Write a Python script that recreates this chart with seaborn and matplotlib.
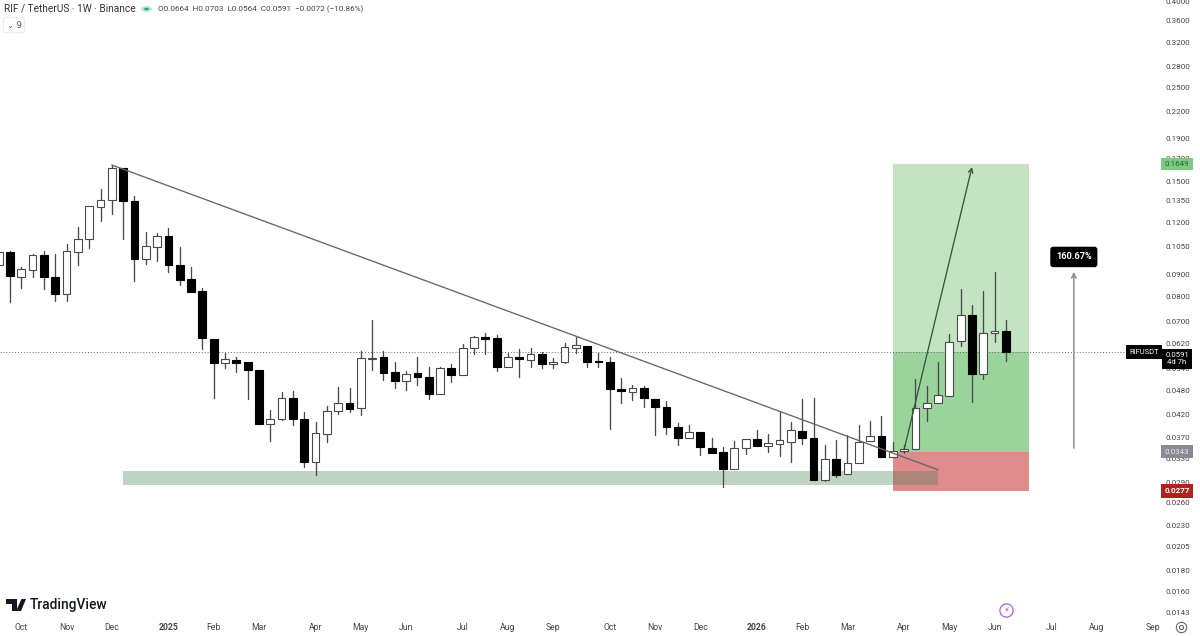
import pandas as pd
import numpy as np
import matplotlib
matplotlib.use('Agg')
import matplotlib.pyplot as plt
from matplotlib.patches import Circle, Polygon, Rectangle
import seaborn as sns

# weekly candles RIF/USDT
first_week = '2024-09-16'
open_ = [0.0950, 0.1022, 0.0892, 0.0925, 0.1002, 0.0892, 0.0812, 0.1022, 0.1095, 0.1304,
         0.1352, 0.1610, 0.1345, 0.0981, 0.1050, 0.1115, 0.0952, 0.0880, 0.0824, 0.0636,
         0.0558, 0.0567, 0.0559, 0.0536, 0.0400, 0.0410, 0.0459, 0.0411, 0.0325, 0.0379,
         0.0429, 0.0447, 0.0435, 0.0568, 0.0574, 0.0529, 0.0504, 0.0526, 0.0517, 0.0470,
         0.0542, 0.0522, 0.0603, 0.0641, 0.0638, 0.0546, 0.0574, 0.0567, 0.0585, 0.0553,
         0.0559, 0.0603, 0.0612, 0.0562, 0.0561, 0.0483, 0.0476, 0.0485, 0.0458, 0.0439,
         0.0393, 0.0370, 0.0383, 0.0351, 0.0342, 0.0313, 0.0351, 0.0368, 0.0355, 0.0357,
         0.0362, 0.0385, 0.0369, 0.0294, 0.0330, 0.0304, 0.0323, 0.0363, 0.0373, 0.0333,
         0.0345, 0.0348, 0.0435, 0.0447, 0.0465, 0.0627, 0.0724, 0.0524, 0.0657, 0.0664]
high = [0.1043, 0.1026, 0.0939, 0.1009, 0.1026, 0.1009, 0.1066, 0.1169, 0.1313, 0.1438,
        0.1640, 0.1615, 0.1387, 0.1140, 0.1132, 0.1163, 0.1048, 0.0941, 0.0837, 0.0636,
        0.0588, 0.0575, 0.0559, 0.0536, 0.0431, 0.0476, 0.0478, 0.0426, 0.0403, 0.0440,
        0.0488, 0.0487, 0.0593, 0.0703, 0.0596, 0.0561, 0.0534, 0.0574, 0.0546, 0.0546,
        0.0554, 0.0616, 0.0645, 0.0656, 0.0650, 0.0587, 0.0601, 0.0603, 0.0592, 0.0573,
        0.0622, 0.0643, 0.0612, 0.0589, 0.0574, 0.0512, 0.0494, 0.0491, 0.0458, 0.0453,
        0.0402, 0.0397, 0.0383, 0.0369, 0.0352, 0.0364, 0.0368, 0.0386, 0.0379, 0.0426,
        0.0403, 0.0458, 0.0459, 0.0356, 0.0365, 0.0375, 0.0397, 0.0406, 0.0416, 0.0361,
        0.0356, 0.0509, 0.0490, 0.0561, 0.0652, 0.0834, 0.0764, 0.0826, 0.0913, 0.0703]
low = [0.0925, 0.0777, 0.0838, 0.0890, 0.0834, 0.0781, 0.0781, 0.0950, 0.1043, 0.1207,
       0.1257, 0.1095, 0.0871, 0.0956, 0.0970, 0.0915, 0.0852, 0.0821, 0.0601, 0.0460,
       0.0541, 0.0530, 0.0457, 0.0399, 0.0364, 0.0408, 0.0398, 0.0315, 0.0303, 0.0361,
       0.0422, 0.0426, 0.0419, 0.0536, 0.0508, 0.0487, 0.0481, 0.0494, 0.0457, 0.0470,
       0.0502, 0.0522, 0.0584, 0.0585, 0.0532, 0.0546, 0.0517, 0.0544, 0.0543, 0.0543,
       0.0556, 0.0589, 0.0544, 0.0544, 0.0388, 0.0447, 0.0456, 0.0439, 0.0376, 0.0378,
       0.0356, 0.0370, 0.0337, 0.0340, 0.0283, 0.0313, 0.0339, 0.0355, 0.0343, 0.0336,
       0.0325, 0.0358, 0.0294, 0.0293, 0.0299, 0.0304, 0.0323, 0.0363, 0.0334, 0.0333,
       0.0341, 0.0348, 0.0406, 0.0447, 0.0465, 0.0612, 0.0451, 0.0509, 0.0626, 0.0564]
close = [0.1020, 0.0895, 0.0928, 0.1002, 0.0889, 0.0812, 0.1026, 0.1095, 0.1311, 0.1354,
         0.1610, 0.1345, 0.0982, 0.1056, 0.1115, 0.0949, 0.0876, 0.0821, 0.0637, 0.0558,
         0.0568, 0.0556, 0.0536, 0.0399, 0.0410, 0.0459, 0.0410, 0.0325, 0.0380, 0.0429,
         0.0448, 0.0433, 0.0571, 0.0573, 0.0527, 0.0505, 0.0524, 0.0517, 0.0471, 0.0543,
         0.0522, 0.0603, 0.0641, 0.0636, 0.0546, 0.0574, 0.0568, 0.0585, 0.0553, 0.0561,
         0.0607, 0.0613, 0.0561, 0.0560, 0.0483, 0.0477, 0.0486, 0.0459, 0.0438, 0.0393,
         0.0370, 0.0382, 0.0352, 0.0340, 0.0312, 0.0350, 0.0368, 0.0355, 0.0359, 0.0365,
         0.0386, 0.0369, 0.0294, 0.0330, 0.0303, 0.0322, 0.0362, 0.0373, 0.0334, 0.0345,
         0.0348, 0.0435, 0.0448, 0.0467, 0.0626, 0.0724, 0.0524, 0.0657, 0.0664, 0.0591]

y_ticks = [0.4000, 0.3600, 0.3200, 0.2800, 0.2500, 0.2200, 0.1900, 0.1700, 0.1500, 0.1350,
           0.1200, 0.1050, 0.0900, 0.0800, 0.0700, 0.0620, 0.0540, 0.0480, 0.0420, 0.0370,
           0.0330, 0.0290, 0.0260, 0.0230, 0.0205, 0.0180, 0.0160, 0.0143]
x_tick_dates = ['2024-09-30', '2024-10-28', '2024-11-25', '2024-12-30', '2025-01-27', '2025-02-24',
                '2025-03-31', '2025-04-28', '2025-05-26', '2025-06-30', '2025-07-28', '2025-08-25',
                '2025-09-29', '2025-10-27', '2025-11-24', '2025-12-29', '2026-01-26', '2026-02-23',
                '2026-03-30', '2026-04-27', '2026-05-25', '2026-06-29', '2026-07-27', '2026-08-31']
x_tick_labels = ['Oct', 'Nov', 'Dec', '2025', 'Feb', 'Mar', 'Apr', 'May', 'Jun', 'Jul', 'Aug', 'Sep',
                 'Oct', 'Nov', 'Dec', '2026', 'Feb', 'Mar', 'Apr', 'May', 'Jun', 'Jul', 'Aug', 'Sep']

# position tool and drawings
target_price = 0.1649
entry_price = 0.0343
stop_price = 0.0277
last_price = 0.0591
position_start, position_end = '2026-03-23', '2026-06-15'
band_start, band_end = '2024-12-02', '2026-04-20'
band_top, band_bottom = 0.0309, 0.0286
trend_dates, trend_prices = ['2024-11-25', '2026-04-20'], [0.1640, 0.0311]
arrow_dates, arrow_prices = ['2026-03-30', '2026-05-11'], [0.0347, 0.1622]
measure_date, measure_prices = '2026-07-13', [0.0350, 0.0915]
measure_label_price = 0.0993

sns.set_theme(style='white')
plt.rcParams['font.family'] = ['Roboto', 'DejaVu Sans']

df = pd.DataFrame({'date': pd.date_range(first_week, periods=len(open_), freq='7D'),
                   'open': open_, 'high': high, 'low': low, 'close': close})
df['up'] = df['close'] >= df['open']
wicks = df.melt(id_vars='date', value_vars=['high', 'low'], value_name='price')

fig = plt.figure(figsize=(12, 6.36), dpi=100)
ax = fig.add_axes([0, 19 / 636, 1160 / 1200, 617 / 636])
ts = pd.Timestamp


def fig_xy(x, y):
    return x / 1200, 1 - y / 636


# position zones
def zone(start, end, bottom, top, color, alpha=1.0, z=1.0):
    x0, x1 = matplotlib.dates.date2num(ts(start)), matplotlib.dates.date2num(ts(end))
    ax.add_patch(Rectangle((x0, bottom), x1 - x0, top - bottom, facecolor=color, edgecolor='none',
                           alpha=alpha, zorder=z))


zone(position_start, position_end, last_price, target_price, '#c3e3c1')
zone(position_start, position_end, entry_price, last_price, '#9bd39c')
zone(position_start, position_end, stop_price, entry_price, '#e08b8b')
zone(band_start, band_end, band_bottom, band_top, '#3d7a47', alpha=0.32, z=1.5)

ax.axhline(last_price, color='#666666', lw=0.7, ls=(0, (1, 2)), zorder=1.8)

# wicks, one small line per week
sns.lineplot(data=wicks, x='date', y='price', units='date', estimator=None, color='#4a4a4a',
             lw=0.95, legend=False, ax=ax, zorder=2)

# bodies
body_bottom = df[['open', 'close']].min(axis=1)
body_height = (df['open'] - df['close']).abs()
ax.bar(df['date'], body_height, bottom=body_bottom, width=4.8,
       color=np.where(df['up'], 'white', 'black'),
       edgecolor=np.where(df['up'], '#4a4a4a', 'black'), linewidth=0.8, zorder=3)

# drawings
ax.plot([ts(d) for d in trend_dates], trend_prices, color='#666666', lw=0.95, zorder=4)
ax.annotate('', xy=(ts(arrow_dates[1]), arrow_prices[1]), xytext=(ts(arrow_dates[0]), arrow_prices[0]),
            arrowprops=dict(arrowstyle='->', color='#35583a', lw=0.95, shrinkA=0, shrinkB=0,
                            mutation_scale=8), zorder=4)
ax.annotate('', xy=(ts(measure_date), measure_prices[1]), xytext=(ts(measure_date), measure_prices[0]),
            arrowprops=dict(arrowstyle='->', color='#8c8c8c', lw=1.1, shrinkA=0, shrinkB=0,
                            mutation_scale=8), zorder=4)
ax.text(ts(measure_date), measure_label_price, '160.67%', color='white', fontsize=6.6, fontweight='bold',
        ha='center', va='center', zorder=6,
        bbox=dict(boxstyle='round,pad=0.55,rounding_size=0.25', fc='black', ec='black'))

# axes
ax.set_yscale('log')
ax.set_ylim(0.01393, 0.4034)
ax.set_xlim(ts('2024-09-16 20:00'), ts('2026-09-04 07:00'))
ax.yaxis.set_major_locator(matplotlib.ticker.FixedLocator(y_ticks))
ax.yaxis.set_minor_locator(matplotlib.ticker.NullLocator())
ax.yaxis.set_major_formatter(matplotlib.ticker.FuncFormatter(lambda v, _: f'{v:.4f}'))
ax.yaxis.tick_right()
ax.set_xticks([ts(d) for d in x_tick_dates])
ax.set_xticklabels(x_tick_labels)
ax.set_xlabel('')
ax.set_ylabel('')
ax.tick_params(axis='y', length=0, pad=4.3, labelsize=5.8, labelcolor='#444444')
ax.tick_params(axis='x', length=0, pad=4.5, labelsize=6.2, labelcolor='#444444')
for lab in ax.get_xticklabels():
    if lab.get_text() in ('2025', '2026'):
        lab.set_fontweight('bold')
sns.despine(ax=ax, left=True, right=True, top=True, bottom=True)
ax.grid(False)


# price labels on the scale
def price_tag(price, text, bg, fg, weight='normal'):
    ax.text(1177 / 1160, price, text, transform=ax.get_yaxis_transform(), color=fg, fontsize=5.8,
            fontweight=weight, ha='center', va='center', zorder=7, clip_on=False,
            bbox=dict(boxstyle='square,pad=0.42', fc=bg, ec='none'))


price_tag(target_price, f'{target_price:.4f}', '#7fc884', '#1e6b2b')
price_tag(entry_price, f'{entry_price:.4f}', '#8a8a94', '#e8e8ee')
price_tag(stop_price, f'{stop_price:.4f}', '#b3211f', 'white', 'bold')
ax.text(1177 / 1160, last_price, f'{last_price:.4f}\n4d 7h', transform=ax.get_yaxis_transform(),
        color='white', fontsize=5.6, ha='center', va='top', linespacing=1.25, zorder=7, clip_on=False,
        bbox=dict(boxstyle='square,pad=0.42', fc='black', ec='none'))
ax.text(1144 / 1160, last_price, 'RIFUSDT', transform=ax.get_yaxis_transform(), color='white', fontsize=5.4,
        ha='center', va='center', zorder=7, clip_on=False,
        bbox=dict(boxstyle='square,pad=0.42', fc='black', ec='none'))

# header
x, y = fig_xy(4, 9)
fig.text(x, y, 'RIF / TetherUS · 1W · Binance', fontsize=7.3, color='#333333', va='center')
x, y = fig_xy(158, 9.5)
fig.text(x, y, 'O0.0664  H0.0703  L0.0564  C0.0591  −0.0072 (−10.86%)', fontsize=5.85, color='#444444',
         va='center')
fig.add_artist(Circle(fig_xy(146.5, 9), 0.0045, transform=fig.transFigure, fc='#b6e6da', ec='none'))
fig.add_artist(Circle(fig_xy(146.5, 9), 0.002, transform=fig.transFigure, fc='#2a9d8f', ec='none'))
x, y = fig_xy(14, 25)
fig.text(x, y, '⌄ 9', fontsize=6, color='#555555', ha='center', va='center', family=['DejaVu Sans'],
         bbox=dict(boxstyle='round,pad=0.4', fc='white', ec='#e4e4e4', lw=0.6))

# logo
logo_t = [(6, 599), (17, 599), (17, 611), (11.5, 611), (11.5, 604), (6, 604)]
logo_7 = [(21.5, 599), (26, 599), (21, 611), (16, 611)]
fig.add_artist(Polygon([fig_xy(*p) for p in logo_t], transform=fig.transFigure, fc='#131722', ec='none'))
fig.add_artist(Polygon([fig_xy(*p) for p in logo_7], transform=fig.transFigure, fc='#131722', ec='none'))
x, y = fig_xy(30, 604.5)
fig.text(x, y, 'TradingView', fontsize=9.9, fontweight='medium', color='#131722', va='center')

# small icons at the bottom
cx, cy = fig_xy(1006, 609.5)
fig.add_artist(plt.Line2D([cx], [cy], marker='o', ms=9.5, mfc='white', mec='#b45fd0', mew=0.9))
fig.text(cx, cy, '⚡', fontsize=6, color='#a040c0', ha='center', va='center', family=['DejaVu Sans'])
sx, sy = fig_xy(1181, 627)
fig.add_artist(plt.Line2D([sx], [sy], marker='o', ms=7.5, mfc='white', mec='#555555', mew=0.7))
fig.add_artist(plt.Line2D([sx], [sy], marker='o', ms=3, mfc='white', mec='#555555', mew=0.7))

fig.savefig('out.png', dpi=100, facecolor='white')
